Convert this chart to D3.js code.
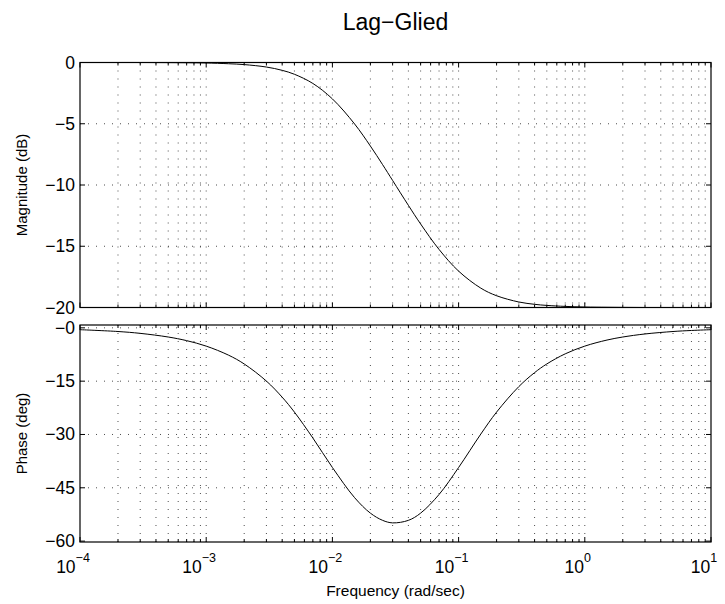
<!DOCTYPE html>
<html>
<head>
<meta charset="utf-8">
<script src="https://cdn.jsdelivr.net/npm/d3@7"></script>
<style>
  body { margin: 0; background: #fff; }
  svg text { font-family: "Liberation Sans", Arial, Helvetica, sans-serif; fill: #000; }
</style>
</head>
<body>
<div id="bode"></div>
<script>
// values
let freq = [1e-4, 2e-4, 3e-4, 5e-4, 7e-4, 1e-3, 1.5e-3, 2e-3, 3e-3, 4e-3, 5e-3, 7e-3,
    1e-2, 1.5e-2, 2e-2, 2.5e-2, 3e-2, 4e-2, 5e-2, 7e-2, 0.1, 0.15, 0.2, 0.3, 0.4, 0.5, 0.7,
    1, 1.5, 2, 3, 5, 7, 10];
let magDb = [0, 0, 0, -0.01, -0.02, -0.04, -0.1, -0.17, -0.37, -0.64, -0.96, -1.71,
    -2.97, -5.02, -6.82, -8.34, -9.63, -11.66, -13.18, -15.26, -17.03, -18.42, -19.04, -19.55, -19.74, -19.83, -19.91,
    -19.96, -19.98, -19.99, -20, -20, -20, -20];
let phaseDeg = [-0.52, -1.03, -1.55, -2.58, -3.6, -5.14, -7.67, -10.16, -14.98, -19.51, -23.7, -30.99,
    -39.29, -47.78, -52.13, -54.16, -54.87, -54.16, -52.13, -46.88, -39.29, -29.88, -23.7, -16.53, -12.6, -10.16, -7.31,
    -5.14, -3.43, -2.58, -1.72, -1.03, -0.74, -0.52];

let decadeExps = [-4, -3, -2, -1, 0, 1];
let magTicks = [0, -5, -10, -15, -20];
let magTickLabels = ["0", "\u22125", "\u221210", "\u221215", "\u221220"];
let phaseTicks = [0, -15, -30, -45, -60];
let phaseTickLabels = ["\u22120", "\u221215", "\u221230", "\u221245", "\u221260"];

let titleText = "Lag\u2212Glied";
let magLabel = "Magnitude (dB)";
let phaseLabel = "Phase (deg)";
let xLabel = "Frequency  (rad/sec)";

const W = 725, H = 604;
const left = 80, right = 711;

const svg = d3.select("#bode").append("svg")
    .attr("width", W)
    .attr("height", H);

const x = d3.scaleLog().domain([1e-4, 10]).range([left, right]);

// minor/major positions for log grid
let gridFreqs = [];
for (let e = -4; e < 1; e++) {
    for (let m = 1; m <= 9; m++) gridFreqs.push(m * Math.pow(10, e));
}
gridFreqs.push(10);

function panel(top, bottom, yDomain, ticks, tickLabels, yData, label) {
    let y = d3.scaleLinear().domain(yDomain).range([bottom, top]);
    let g = svg.append("g");

    // vertical grid
    g.selectAll(".vgrid")
        .data(gridFreqs.filter(f => f > 1e-4 && f < 10))
        .enter().append("line")
        .attr("x1", d => x(d)).attr("x2", d => x(d))
        .attr("y1", top).attr("y2", bottom)
        .attr("stroke", "#000").attr("stroke-width", 0.7)
        .attr("stroke-dasharray", "1,7");

    // horizontal grid
    g.selectAll(".hgrid")
        .data(ticks.filter(t => y(t) > top + 1 && y(t) < bottom - 1))
        .enter().append("line")
        .attr("x1", left).attr("x2", right)
        .attr("y1", d => y(d)).attr("y2", d => y(d))
        .attr("stroke", "#000").attr("stroke-width", 0.7)
        .attr("stroke-dasharray", "1,7");

    // curve
    let line = d3.line()
        .x((d, i) => x(freq[i]))
        .y(d => y(d))
        .curve(d3.curveCatmullRom.alpha(0.5));
    g.append("path")
        .datum(yData)
        .attr("d", line)
        .attr("fill", "none")
        .attr("stroke", "#000")
        .attr("stroke-width", 1);

    // x ticks top and bottom (inward)
    gridFreqs.forEach(f => {
        let major = decadeExps.some(e => Math.abs(Math.log10(f) - e) < 1e-9);
        let len = major ? 5 : 3;
        g.append("line").attr("x1", x(f)).attr("x2", x(f))
            .attr("y1", bottom).attr("y2", bottom - len)
            .attr("stroke", "#000").attr("stroke-width", 1);
        g.append("line").attr("x1", x(f)).attr("x2", x(f))
            .attr("y1", top).attr("y2", top + len)
            .attr("stroke", "#000").attr("stroke-width", 1);
    });

    // y ticks left and right (inward)
    ticks.forEach(t => {
        g.append("line").attr("x1", left).attr("x2", left + 5)
            .attr("y1", y(t)).attr("y2", y(t))
            .attr("stroke", "#000").attr("stroke-width", 1);
        g.append("line").attr("x1", right).attr("x2", right - 5)
            .attr("y1", y(t)).attr("y2", y(t))
            .attr("stroke", "#000").attr("stroke-width", 1);
    });

    // y tick labels
    g.selectAll(".ylab")
        .data(ticks)
        .enter().append("text")
        .attr("x", left - 5)
        .attr("y", (d) => y(d) + 6)
        .attr("text-anchor", "end")
        .attr("font-size", 17.5)
        .text((d, i) => tickLabels[i]);

    // box
    g.append("rect")
        .attr("x", left).attr("y", top)
        .attr("width", right - left).attr("height", bottom - top)
        .attr("fill", "none").attr("stroke", "#000").attr("stroke-width", 1.2);

    // y axis label
    g.append("text")
        .attr("transform", `translate(27, ${(top + bottom) / 2}) rotate(-90)`)
        .attr("text-anchor", "middle")
        .attr("font-size", 15)
        .text(label);

    return y;
}

panel(62.5, 307.5, [-20, 0], magTicks, magTickLabels, magDb, magLabel);
panel(325, 542, [-60.25, 0.8], phaseTicks, phaseTickLabels, phaseDeg, phaseLabel);

// x tick labels 10^n
decadeExps.forEach(e => {
    let t = svg.append("text")
        .attr("x", x(Math.pow(10, e)) - 7)
        .attr("y", 573)
        .attr("text-anchor", "middle")
        .attr("font-size", 17.5);
    t.append("tspan").text("10");
    t.append("tspan")
        .attr("dy", -11)
        .attr("font-size", 12.5)
        .text(e < 0 ? "\u2212" + Math.abs(e) : String(e));
});

// x label
svg.append("text")
    .attr("x", (left + right) / 2)
    .attr("y", 596)
    .attr("text-anchor", "middle")
    .attr("font-size", 15.5)
    .text(xLabel);

// title
svg.append("text")
    .attr("x", (left + right) / 2)
    .attr("y", 30)
    .attr("text-anchor", "middle")
    .attr("font-size", 23)
    .text(titleText);
</script>
</body>
</html>
